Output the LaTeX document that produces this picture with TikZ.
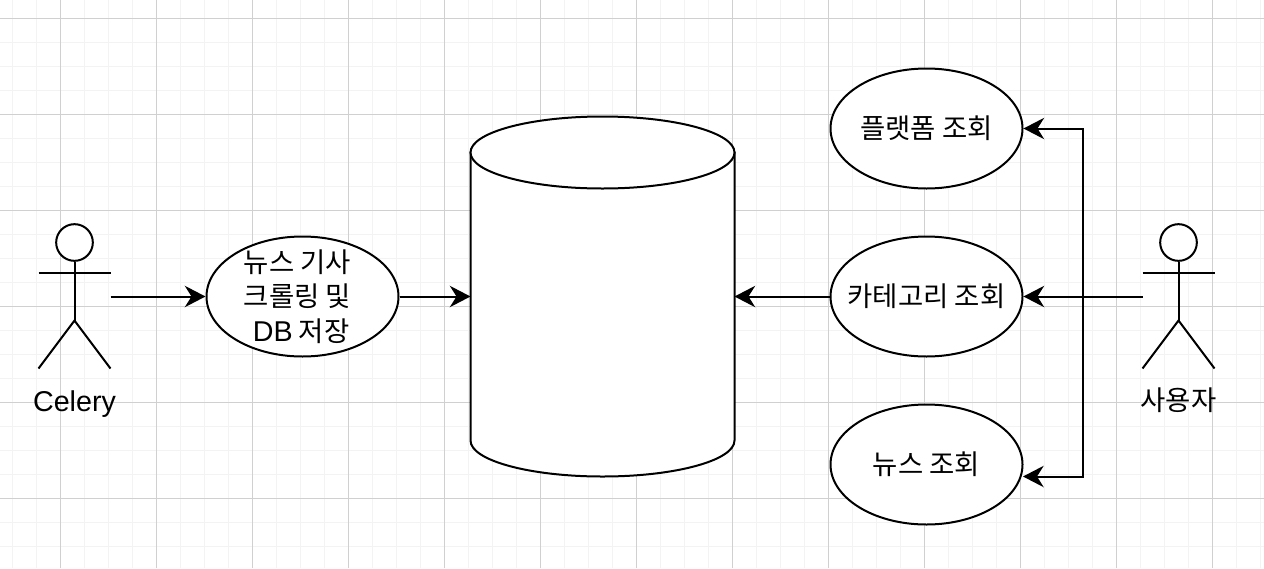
\documentclass[tikz,border=0pt]{standalone}
\usepackage{fontspec}
\setmainfont{Liberation Sans}
\newfontfamily\krfont{Noto Sans CJK KR}
\usetikzlibrary{arrows.meta,shapes.geometric}

\tikzset{
  minorgrid/.style={draw={rgb,255:red,243;green,243;blue,243},line width=1.3pt},
  majorgrid/.style={draw={rgb,255:red,208;green,208;blue,208},line width=0.75pt},
  usecase/.style={ellipse,draw,fill=white,line width=1.5pt,minimum width=144pt,minimum height=90pt,inner xsep=-14pt,inner ysep=-10pt,align=center,font=\fontsize{20.6}{25.8}\selectfont\krfont},
  storage/.style={draw,fill=white,line width=1.5pt},
  storagecap/.style={ellipse,draw,fill=white,line width=1.5pt,minimum width=198pt,minimum height=54pt,inner sep=0pt},
  actorhead/.style={circle,draw,fill=white,line width=1.5pt,minimum size=27.5pt,inner sep=0pt},
  actorline/.style={line width=1.5pt},
  actorname/.style={font=\fontsize{21.5}{26}\selectfont},
  conn/.style={line width=1.5pt,-{Stealth[length=15.5pt,width=16pt,inset=5pt]}}
}

\begin{document}
\begin{tikzpicture}[x=0.75pt,y=0.75pt,yscale=-1,xscale=1]
\useasboundingbox (0,0) rectangle (1264,568);

%Background grid
\begin{scope}[shift={(12.5,18.5)}]
\clip (-12.5,-18.5) rectangle (1251.5,549.5);
\draw [minorgrid,step=18pt] (-12.5,-18.5) grid (1251.5,549.5);
\end{scope}
\begin{scope}[shift={(60.5,18.5)}]
\clip (-60.5,-18.5) rectangle (1203.5,549.5);
\draw [majorgrid,step=72pt] (-60.5,-18.5) grid (1203.5,549.5);
\end{scope}

%Database
\coordinate (dbwest) at (470.5,296.5);
\coordinate (dbeast) at (734.5,296.5);
\draw [storage] (470.5,152.5) -- (470.5,440.5) arc [start angle=180,end angle=0,x radius=132,y radius=36] -- (734.5,152.5) -- cycle;
\node [storagecap] (dbcap) at (602.5,152.5) {};

% Use cases
\node [usecase] (crawl) at (302.5,296.5) {뉴스 기사\kern7.5pt\\크롤링 및\kern7.5pt\\{\rmfamily\fontsize{21.5}{25.8}\selectfont DB} 저장\kern2pt};
\node [usecase] (platform) at (926.5,128.5) {플랫폼 조회};
\node [usecase] (category) at (926.5,296.5) {카테고리 조회};
\node [usecase] (news) at (926.5,464.5) {뉴스 조회};

%Actor Celery
\node [actorhead] (celeryhead) at (74.5,242.5) {};
\coordinate (celeryhip) at (74.5,320.5);
\coordinate (celeryhandl) at (38.5,272.5);
\coordinate (celeryhandr) at (110.5,272.5);
\coordinate (celeryfootl) at (38.5,368.5);
\coordinate (celeryfootr) at (110.5,368.5);
\coordinate (celeryside) at (110.5,296.5);
\draw [actorline] (celeryhead.south) -- (celeryhip);
\draw [actorline] (celeryhandl) -- (celeryhandr);
\draw [actorline] (celeryfootl) -- (celeryhip) -- (celeryfootr);
\node [actorname] (celeryname) at (74.5,404) {Celery};

%Actor user
\node [actorhead] (userhead) at (1178.5,242.5) {};
\coordinate (userhip) at (1178.5,320.5);
\coordinate (userhandl) at (1142.5,272.5);
\coordinate (userhandr) at (1214.5,272.5);
\coordinate (userfootl) at (1142.5,368.5);
\coordinate (userfootr) at (1214.5,368.5);
\coordinate (userside) at (1142.5,296.5);
\coordinate (userlower) at (1142.5,297.2);
\draw [actorline] (userhead.south) -- (userhip);
\draw [actorline] (userhandl) -- (userhandr);
\draw [actorline] (userfootl) -- (userhip) -- (userfootr);
\node [font=\fontsize{20.6}{26}\selectfont\krfont] (username) at (1178.5,400.5) {사용자};

%Straight Lines
\coordinate (elbow) at (1083,296.5);
\coordinate (elbowlow) at (1083,297.2);
\coordinate (newsside) at (1023,476.5);
\draw [conn] (celeryside) -- (crawl.west);
\draw [conn] (crawl.east) -- (dbwest);
\draw [conn] (category.west) -- (dbeast);
\draw [conn] (userside) -- (category.east);
\draw [conn] (userside) -- (elbow) |- (platform.east);
\draw [conn] (userlower) -- (elbowlow) |- (newsside);

\end{tikzpicture}
\end{document}
